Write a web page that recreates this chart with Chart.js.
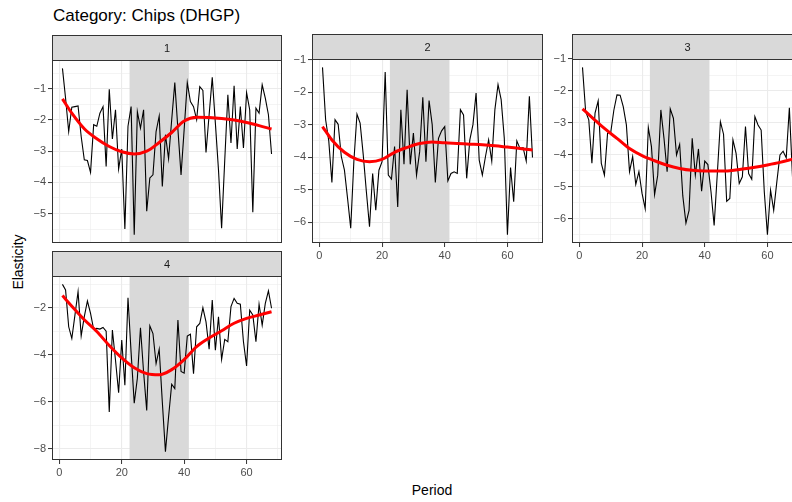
<!DOCTYPE html>
<html>
<head>
<meta charset="utf-8">
<script src="https://cdn.jsdelivr.net/npm/chart.js@4.4.0/dist/chart.umd.min.js"></script>
<style>
  body { margin: 0; width: 792px; height: 502px; overflow: hidden; background: #fff; position: relative;
         font-family: "Liberation Sans", Arial, sans-serif; }
  canvas { position: absolute; }
  .lbl { position: absolute; color: #000; white-space: nowrap; }
</style>
</head>
<body>
<div class="lbl" style="left:53px; top:6px; font-size:17px;">Category: Chips (DHGP)</div>
<div class="lbl" style="left:18px; top:262px; font-size:14px; transform: translate(-50%, -50%) rotate(-90deg);">Elasticity</div>
<div class="lbl" style="left:432px; top:490px; font-size:14px; transform: translate(-50%, -50%);">Period</div>
<script>
// Data
const panelLabels = ['1', '2', '3', '4'];
const periods = [1, 2, 3, 4, 5, 6, 7, 8, 9, 10, 11, 12, 13, 14, 15, 16, 17, 18, 19, 20,
    21, 22, 23, 24, 25, 26, 27, 28, 29, 30, 31, 32, 33, 34, 35, 36, 37, 38, 39, 40,
    41, 42, 43, 44, 45, 46, 47, 48, 49, 50, 51, 52, 53, 54, 55, 56, 57, 58, 59, 60,
    61, 62, 63, 64, 65, 66, 67, 68];

const elasticity1 = [-0.34, -1.3, -2.37, -1.59, -1.57, -1.55, -2.53, -3.28, -3.3, -3.68,
    -2.15, -2.2, -1.78, -1.57, -3.49, -1.01, -2.61, -1.67, -3.57, -2.93,
    -5.5, -2.2, -1.57, -5.68, -1.73, -2.26, -1.67, -4.93, -3.86, -3.76,
    -2.37, -1.87, -4.13, -2.47, -3.24, -2.0, -0.8, -2.3, -3.76, -2.3,
    -0.8, -1.41, -1.57, -1.99, -0.93, -1.05, -3.04, -1.83, -0.63, -2.1,
    -3.6, -5.47, -3.3, -1.19, -2.74, -0.9, -2.93, -1.57, -2.9, -1.12,
    -1.67, -4.96, -1.62, -1.78, -0.87, -1.3, -1.83, -3.09];
const elasticity2 = [-1.24, -2.85, -3.5, -4.78, -2.85, -2.99, -3.98, -4.4, -5.27, -6.18,
    -4.14, -2.68, -2.95, -3.93, -5.06, -6.14, -4.5, -5.63, -4.4, -4.14,
    -1.38, -4.55, -4.67, -3.67, -5.53, -2.54, -4.22, -1.93, -4.22, -3.26,
    -4.55, -3.83, -2.16, -4.14, -2.26, -3.0, -4.78, -3.42, -3.19, -3.06,
    -4.73, -4.5, -4.45, -4.5, -2.54, -2.7, -4.65, -3.47, -3.0, -2.03,
    -4.09, -4.55, -3.98, -3.47, -4.12, -2.54, -1.77, -2.23, -3.42, -6.38,
    -4.32, -5.37, -3.5, -3.73, -3.71, -4.12, -2.13, -4.01];
const elasticity3 = [-1.26, -2.64, -2.9, -4.26, -2.69, -2.31, -4.26, -4.63, -3.32, -3.3,
    -2.6, -2.12, -2.13, -2.49, -3.06, -4.52, -4.05, -4.92, -4.52, -5.2,
    -5.68, -3.14, -3.74, -5.24, -4.63, -2.59, -3.48, -4.52, -2.56, -2.85,
    -4.0, -3.67, -5.28, -6.13, -5.73, -3.48, -4.63, -3.81, -5.13, -4.19,
    -4.3, -5.15, -6.2, -4.6, -2.96, -3.35, -5.45, -5.36, -3.53, -3.95,
    -4.89, -4.68, -3.11, -4.58, -4.76, -2.8, -3.06, -3.22, -5.15, -6.49,
    -5.1, -5.73, -4.84, -4.0, -3.88, -4.09, -2.52, -4.68];
const elasticity4 = [-0.99, -1.23, -2.8, -3.3, -2.3, -1.3, -3.19, -2.37, -1.7, -2.23,
    -2.91, -2.87, -2.9, -2.83, -2.99, -6.44, -2.94, -4.23, -5.61, -3.37,
    -5.3, -1.56, -3.9, -6.06, -5.0, -2.84, -4.73, -6.37, -2.76, -3.09,
    -4.37, -3.76, -6.01, -8.13, -6.65, -5.25, -5.44, -2.51, -4.71, -4.78,
    -3.2, -3.12, -4.8, -2.8, -2.66, -1.99, -2.59, -3.76, -1.66, -3.8,
    -2.37, -4.19, -3.34, -3.44, -1.94, -1.59, -1.8, -1.84, -3.44, -4.47,
    -2.09, -2.3, -3.44, -1.84, -2.73, -1.8, -1.27, -2.01];

// Smoothed trend (red), read at these periods
const smoothPeriods = [1, 4, 8, 12, 16, 20, 24, 28, 32, 36, 40, 44, 48, 52, 56, 60, 64, 68];
const smooth1 = [-1.32, -1.78, -2.28, -2.6, -2.85, -3.02, -3.09, -3.0, -2.72, -2.4, -2.03, -1.91, -1.92, -1.95, -2.0, -2.08, -2.18, -2.29];
const smooth2 = [-3.06, -3.47, -3.85, -4.07, -4.14, -4.07, -3.85, -3.7, -3.58, -3.53, -3.56, -3.58, -3.6, -3.62, -3.65, -3.69, -3.73, -3.78];
const smooth3 = [-2.56, -2.82, -3.17, -3.48, -3.8, -4.02, -4.18, -4.32, -4.42, -4.48, -4.5, -4.5, -4.49, -4.44, -4.38, -4.31, -4.23, -4.13];
const smooth4 = [-1.47, -1.92, -2.5, -3.0, -3.6, -4.13, -4.55, -4.8, -4.85, -4.63, -4.2, -3.65, -3.28, -2.97, -2.65, -2.44, -2.3, -2.16];

// Shaded period window
const shadeRange = [22.5, 41.5];

// Tick values
const xMajor = [0, 20, 40, 60];
const xMinor = [10, 30, 50, 70];
const yMajor123 = [-6, -5, -4, -3, -2, -1];
const yMinor123 = [-6.5, -5.5, -4.5, -3.5, -2.5, -1.5, -0.5];
const yMajor4 = [-8, -6, -4, -2];
const yMinor4 = [-7, -5, -3, -1];

const seriesList = [elasticity1, elasticity2, elasticity3, elasticity4];
const smoothList = [smooth1, smooth2, smooth3, smooth4];
const yMajorList = [yMajor123, yMajor123, yMajor123, yMajor4];
const yMinorList = [yMinor123, yMinor123, yMinor123, yMinor4];

// Panel boxes (plot area, below the strip)
const boxes = [
    { left: 52, top: 60, w: 230, h: 183, showX: false },
    { left: 312, top: 59, w: 231, h: 184, showX: true },
    { left: 572, top: 59, w: 231, h: 184, showX: true },
    { left: 52, top: 276, w: 230, h: 184, showX: true }
];
const stripH = 25, padL = 45, padR = 3, axisH = 24;
const FONT = '"Liberation Sans", Arial, sans-serif';

const panelDecor = {
    id: 'panelDecor',
    beforeDatasetsDraw(chart, args, opts) {
        const { ctx, chartArea: a, scales: { x } } = chart;
        const x0 = x.getPixelForValue(opts.shade[0]);
        const x1 = x.getPixelForValue(opts.shade[1]);
        ctx.save();
        ctx.fillStyle = '#D9D9D9';
        ctx.fillRect(x0, a.top, x1 - x0, a.bottom - a.top);
        ctx.restore();
    },
    afterDraw(chart, args, opts) {
        const { ctx, chartArea: a } = chart;
        ctx.save();
        ctx.fillStyle = '#D9D9D9';
        ctx.fillRect(a.left, a.top - stripH, a.right - a.left, stripH);
        ctx.strokeStyle = '#333333';
        ctx.lineWidth = 1;
        ctx.strokeRect(a.left + 0.5, a.top - stripH + 0.5, a.right - a.left - 1, stripH);
        ctx.strokeRect(a.left + 0.5, a.top + 0.5, a.right - a.left - 1, a.bottom - a.top - 1);
        ctx.fillStyle = '#1A1A1A';
        ctx.font = '11px ' + FONT;
        ctx.textAlign = 'center';
        ctx.textBaseline = 'middle';
        ctx.fillText(opts.label, (a.left + a.right) / 2, a.top - stripH / 2 + 1);
        ctx.restore();
    }
};

function minusSign(v) {
    return String(v).replace('-', '\u2212');
}

// keep only ticks that fall inside the axis range
function setTicks(scale, values) {
    scale.ticks = values
        .filter(v => v >= scale.min && v <= scale.max)
        .sort((a, b) => a - b)
        .map(v => ({ value: v }));
}

function makePanel(i) {
    const box = boxes[i];
    const values = seriesList[i];
    const yMajor = yMajorList[i];
    const yMinor = yMinorList[i];

    const canvas = document.createElement('canvas');
    canvas.width = box.w + padL + padR;
    canvas.height = box.h + stripH + axisH;
    canvas.style.left = (box.left - padL) + 'px';
    canvas.style.top = (box.top - stripH) + 'px';
    document.body.appendChild(canvas);

    // ggplot-style 5% expansion
    const lo = Math.min(...values), hi = Math.max(...values);
    const ey = (hi - lo) * 0.05;
    const ex = (periods[periods.length - 1] - periods[0]) * 0.05;

    new Chart(canvas.getContext('2d'), {
        type: 'line',
        data: {
            datasets: [{
                data: smoothPeriods.map((p, k) => ({ x: p, y: smoothList[i][k] })),
                borderColor: '#FF0000',
                borderWidth: 3,
                pointRadius: 0,
                cubicInterpolationMode: 'monotone',
                order: 0
            }, {
                data: periods.map((p, k) => ({ x: p, y: values[k] })),
                borderColor: '#000000',
                borderWidth: 1.1,
                pointRadius: 0,
                tension: 0,
                order: 1
            }]
        },
        options: {
            responsive: false,
            animation: false,
            devicePixelRatio: 1,
            layout: { padding: { top: stripH, right: padR, left: 0, bottom: 0 } },
            plugins: {
                legend: { display: false },
                tooltip: { enabled: false },
                panelDecor: { label: panelLabels[i], shade: shadeRange }
            },
            scales: {
                x: {
                    type: 'linear',
                    min: periods[0] - ex,
                    max: periods[periods.length - 1] + ex,
                    afterBuildTicks: s => setTicks(s, xMajor.concat(xMinor)),
                    afterFit: s => { s.height = axisH; },
                    border: { display: false },
                    grid: {
                        color: '#EBEBEB',
                        lineWidth: c => xMajor.includes(c.tick.value) ? 1.1 : 0.55,
                        tickLength: 4,
                        tickWidth: 1,
                        tickColor: c => (box.showX && xMajor.includes(c.tick.value)) ? '#333333' : 'rgba(0,0,0,0)'
                    },
                    ticks: {
                        display: box.showX,
                        autoSkip: false,
                        maxRotation: 0,
                        padding: 2,
                        color: '#4D4D4D',
                        font: { family: FONT, size: 11 },
                        callback: v => xMajor.includes(v) ? String(v) : ''
                    }
                },
                y: {
                    type: 'linear',
                    min: lo - ey,
                    max: hi + ey,
                    afterBuildTicks: s => setTicks(s, yMajor.concat(yMinor)),
                    afterFit: s => { s.width = padL; },
                    border: { display: false },
                    grid: {
                        color: '#EBEBEB',
                        lineWidth: c => yMajor.includes(c.tick.value) ? 1.1 : 0.55,
                        tickLength: 4,
                        tickWidth: 1,
                        tickColor: c => yMajor.includes(c.tick.value) ? '#333333' : 'rgba(0,0,0,0)'
                    },
                    ticks: {
                        autoSkip: false,
                        padding: 2,
                        color: '#4D4D4D',
                        font: { family: FONT, size: 11 },
                        callback: v => yMajor.includes(v) ? minusSign(v) : ''
                    }
                }
            }
        },
        plugins: [panelDecor]
    });
}

boxes.forEach((b, i) => makePanel(i));
</script>
</body>
</html>
